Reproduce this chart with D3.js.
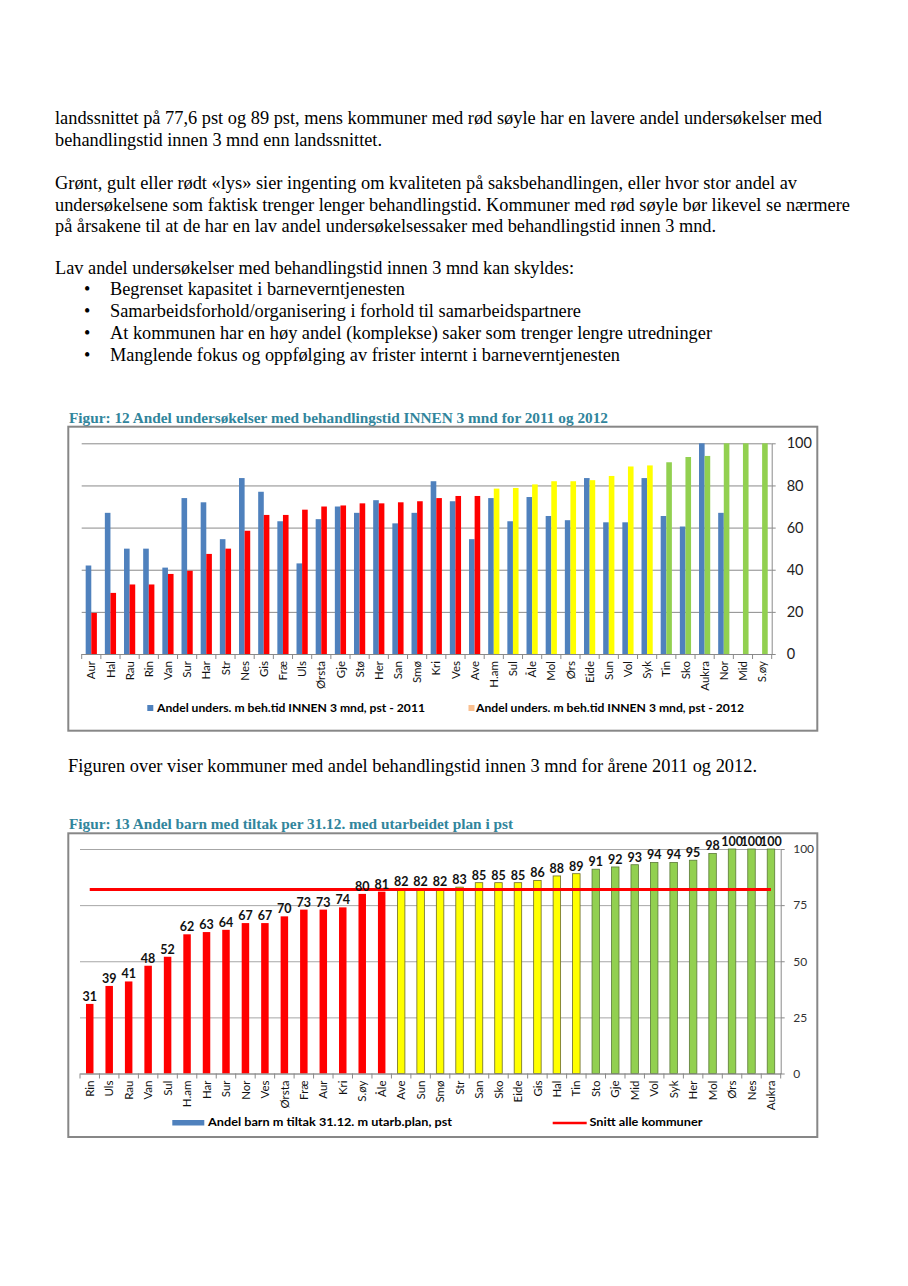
<!DOCTYPE html>
<html><head><meta charset="utf-8">
<script src="https://cdn.jsdelivr.net/npm/d3@7"></script>
<style>body{margin:0;background:#fff;} svg{display:block}</style>
</head><body>
<svg id="page" width="908" height="1286"></svg>
<script>
// ---------- text ----------
const introLines = [
  "landssnittet på 77,6 pst og 89 pst, mens kommuner med rød søyle har en lavere andel undersøkelser med",
  "behandlingstid innen 3 mnd enn landssnittet.",
  "Grønt, gult eller rødt «lys» sier ingenting om kvaliteten på saksbehandlingen, eller hvor stor andel av",
  "undersøkelsene som faktisk trenger lenger behandlingstid. Kommuner med rød søyle bør likevel se nærmere",
  "på årsakene til at de har en lav andel undersøkelsessaker med behandlingstid innen 3 mnd.",
  "Lav andel undersøkelser med behandlingstid innen 3 mnd kan skyldes:"
];
const bulletLines = [
  "Begrenset kapasitet i barneverntjenesten",
  "Samarbeidsforhold/organisering i forhold til samarbeidspartnere",
  "At kommunen har en høy andel (komplekse) saker som trenger lengre utredninger",
  "Manglende fokus og oppfølging av frister internt i barneverntjenesten"
];
const betweenText = "Figuren over viser kommuner med andel behandlingstid innen 3 mnd for årene 2011 og 2012.";

// ---------- chart 1 data ----------
const title1 = "Figur: 12 Andel undersøkelser med behandlingstid INNEN 3 mnd for 2011 og 2012";
const categories1 = ["Aur","Hal","Rau","Rin","Van","Sur","Har","Str","Nes","Gis","Fræ","Uls","Ørsta","Gje","Stø","Her","San","Smø","Kri","Ves","Ave","H.am","Sul","Åle","Mol","Ørs","Eide","Sun","Vol","Syk","Tin","Sko","Aukra","Nor","Mid","S.øy"];
const values2011 = [42,67,50,50,41,74,72,54.5,83.5,77,63,43,64,70,67,73,62,67,82,72.5,54.5,74,63,74.5,65.5,63.5,83.5,62.5,62.5,83.5,65.5,60.5,100,67,null,null];
const values2012 = [19.5,29,33,33,38,39.5,47.5,50,58.5,66,66,68.5,70,70.5,71.5,71.5,72,72.5,74,75,75,78.5,78.8,80.5,82,82,82.5,84.5,89,89.5,91,93.5,94,100,100,100];
const status1 = ["red","red","red","red","red","red","red","red","red","red","red","red","red","red","red","red","red","red","red","red","red",
  "yellow","yellow","yellow","yellow","yellow","yellow","yellow","yellow","yellow",
  "green","green","green","green","green","green"];
const ticks1 = [0,20,40,60,80,100];
const legend1 = ["Andel unders. m beh.tid INNEN 3 mnd, pst - 2011","Andel unders. m beh.tid INNEN 3 mnd, pst - 2012"];

// ---------- chart 2 data ----------
const title2 = "Figur: 13 Andel barn med tiltak per 31.12. med utarbeidet plan i pst";
const categories2 = ["Rin","Uls","Rau","Van","Sul","H.am","Har","Sur","Nor","Ves","Ørsta","Fræ","Aur","Kri","S.øy","Åle","Ave","Sun","Smø","Str","San","Sko","Eide","Gis","Hal","Tin","Sto","Gje","Mid","Vol","Syk","Her","Mol","Ørs","Nes","Aukra"];
const values2 = [31,39,41,48,52,62,63,64,67,67,70,73,73,74,80,81,82,82,82,83,85,85,85,86,88,89,91,92,93,94,94,95,98,100,100,100];
const status2 = ["red","red","red","red","red","red","red","red","red","red","red","red","red","red","red","red",
  "yellow","yellow","yellow","yellow","yellow","yellow","yellow","yellow","yellow","yellow",
  "green","green","green","green","green","green","green","green","green","green"];
const average2 = 82;
const ticks2 = [0,25,50,75,100];
const legend2 = ["Andel barn m tiltak 31.12. m utarb.plan, pst","Snitt alle kommuner"];

// ---------- styles ----------
const fill = {red:"#FF0000", yellow:"#FFFF00", green:"#92D050"};
const stroke2 = {red:"none", yellow:"#6b6b2a", green:"#5b7a36"};
const blue = "#4F81BD", peach = "#FAC090", teal = "#31859C";
const serif = "'Liberation Serif','Times New Roman',serif";
const sans = "Lato,'Liberation Sans',Arial,sans-serif";

const svg = d3.select("#page");

// ---------- paragraphs ----------
const introPos = [[123.5,767],[145.5,327],[188.5,742],[210.5,795],[231.5,661],[273.5,519]];
svg.append("g").selectAll("text").data(introLines).join("text")
  .attr("x",55).attr("y",(d,i)=>introPos[i][0])
  .attr("textLength",(d,i)=>introPos[i][1]).attr("lengthAdjust","spacingAndGlyphs")
  .style("font-family",serif).style("font-size","18px").text(d=>d);
const bulletPos = [[294.5,295],[316.5,471],[338.5,602],[360.5,510]];
const bg = svg.append("g");
bg.selectAll("text.b").data(bulletLines).join("text").attr("class","b")
  .attr("x",84).attr("y",(d,i)=>bulletPos[i][0])
  .style("font-family",serif).style("font-size","18px").text("•");
bg.selectAll("text.t").data(bulletLines).join("text").attr("class","t")
  .attr("x",110).attr("y",(d,i)=>bulletPos[i][0])
  .attr("textLength",(d,i)=>bulletPos[i][1]).attr("lengthAdjust","spacingAndGlyphs")
  .style("font-family",serif).style("font-size","18px").text(d=>d);
svg.append("text").attr("x",68).attr("y",772).attr("textLength",689).attr("lengthAdjust","spacingAndGlyphs")
  .style("font-family",serif).style("font-size","18.5px").text(betweenText);

// ---------- chart 1 ----------
(function(){
  const g = svg.append("g");
  g.append("text").attr("x",69).attr("y",422.5).attr("textLength",539).attr("lengthAdjust","spacingAndGlyphs")
    .style("font-family",serif).style("font-weight","bold").style("font-size","14px").style("fill",teal).text(title1);
  g.append("rect").attr("x",68.3).attr("y",426.7).attr("width",749).attr("height",304)
    .attr("fill","none").attr("stroke","#878787").attr("stroke-width",2);
  const L=81.7, R=771.7, B=654, T=443.3;
  const x0 = d3.scaleBand().domain(categories1).range([L,R]).padding(0);
  const x1 = d3.scaleBand().domain(["2011","2012"]).range([0,x0.bandwidth()]).paddingInner(0).paddingOuter(0.71);
  const y = d3.scaleLinear().domain([0,100]).range([B,T]);
  const grid = g.append("g").attr("transform",`translate(${R},0)`)
    .call(d3.axisRight(y).tickValues(ticks1).tickSize(-(R-L)).tickFormat(""));
  grid.select(".domain").remove();
  grid.selectAll("line").attr("stroke","#8a8a8a");
  const bars = g.append("g");
  bars.selectAll("rect.b11").data(categories1.map((c,i)=>({c,v:values2011[i]})).filter(d=>d.v!=null))
    .join("rect").attr("class","b11")
    .attr("x",d=>x0(d.c)+x1("2011")).attr("width",x1.bandwidth())
    .attr("y",d=>y(d.v)).attr("height",d=>B-y(d.v)).attr("fill",blue);
  bars.selectAll("rect.b12").data(categories1.map((c,i)=>({c,v:values2012[i],s:status1[i]})))
    .join("rect").attr("class","b12")
    .attr("x",d=>x0(d.c)+x1("2012")).attr("width",x1.bandwidth())
    .attr("y",d=>y(d.v)).attr("height",d=>B-y(d.v)).attr("fill",d=>fill[d.s]);
  const ra = g.append("g").attr("transform",`translate(${R},0)`)
    .call(d3.axisRight(y).tickValues(ticks1).tickSize(4).tickSizeOuter(0).tickPadding(11));
  ra.select(".domain").attr("stroke","#8a8a8a");
  ra.selectAll("line").attr("stroke","#8a8a8a");
  ra.selectAll("text").style("font-family",sans).style("font-size","14.5px").style("fill","#222");
  const xa = g.append("g").attr("transform",`translate(0,${B})`)
    .call(d3.axisBottom(x0).tickSize(0).tickSizeOuter(0));
  xa.select(".domain").attr("stroke","#8a8a8a");
  xa.selectAll("text").attr("transform","rotate(-90)").attr("text-anchor","end")
    .attr("x",-7).attr("y",0).attr("dy","0.36em")
    .style("font-family",sans).style("font-size","11.5px").style("fill","#111");
  g.append("g").selectAll("line").data(d3.range(categories1.length+1)).join("line")
    .attr("x1",i=>L+i*x0.step()).attr("x2",i=>L+i*x0.step()).attr("y1",B).attr("y2",B+5).attr("stroke","#8a8a8a");
  const lg = g.append("g");
  lg.append("rect").attr("x",147.3).attr("y",705).attr("width",6).attr("height",6).attr("fill",blue);
  lg.append("text").attr("x",157).attr("y",712).attr("textLength",268).attr("lengthAdjust","spacingAndGlyphs")
    .style("font-family",sans).style("font-weight","bold").style("font-size","12px").text(legend1[0]);
  lg.append("rect").attr("x",468.5).attr("y",705).attr("width",6).attr("height",6).attr("fill",peach);
  lg.append("text").attr("x",476).attr("y",712).attr("textLength",268).attr("lengthAdjust","spacingAndGlyphs")
    .style("font-family",sans).style("font-weight","bold").style("font-size","12px").text(legend1[1]);
})();

// ---------- chart 2 ----------
(function(){
  const g = svg.append("g");
  g.append("text").attr("x",69).attr("y",829).attr("textLength",444).attr("lengthAdjust","spacingAndGlyphs")
    .style("font-family",serif).style("font-weight","bold").style("font-size","14px").style("fill",teal).text(title2);
  g.append("rect").attr("x",68.3).attr("y",833.3).attr("width",749).attr("height",303.7)
    .attr("fill","none").attr("stroke","#878787").attr("stroke-width",2);
  const L=80, R=780.7, B=1073.5, T=849;
  const x = d3.scaleBand().domain(categories2).range([L,R]).paddingInner(0.615).paddingOuter(0.3075);
  const y = d3.scaleLinear().domain([0,100]).range([B,T]);
  const grid = g.append("g").attr("transform",`translate(${R},0)`)
    .call(d3.axisRight(y).tickValues(ticks2).tickSize(-(R-L)).tickFormat(""));
  grid.select(".domain").remove();
  grid.selectAll("line").attr("stroke","#a6a6a6");
  const data = categories2.map((c,i)=>({c,v:values2[i],s:status2[i]}));
  g.append("g").selectAll("rect").data(data).join("rect")
    .attr("x",d=>x(d.c)).attr("width",x.bandwidth())
    .attr("y",d=>y(d.v)).attr("height",d=>B-y(d.v))
    .attr("fill",d=>fill[d.s]).attr("stroke",d=>stroke2[d.s]).attr("stroke-width",0.8);
  g.append("line").attr("x1",x(categories2[0])+x.bandwidth()/2).attr("x2",x(categories2[categories2.length-1])+x.bandwidth()/2)
    .attr("y1",y(average2)).attr("y2",y(average2)).attr("stroke","#FF0000").attr("stroke-width",3);
  g.append("g").selectAll("text").data(data).join("text")
    .attr("x",d=>x(d.c)+x.bandwidth()/2).attr("y",d=>y(d.v)-3).attr("text-anchor","middle")
    .style("font-family",sans).style("font-weight","bold").style("font-size","12.5px").style("fill","#111")
    .text(d=>d.v);
  const ra = g.append("g").attr("transform",`translate(${R},0)`)
    .call(d3.axisRight(y).tickValues(ticks2).tickSize(4).tickSizeOuter(0).tickPadding(8.5));
  ra.select(".domain").attr("stroke","#8a8a8a");
  ra.selectAll("line").attr("stroke","#8a8a8a");
  ra.selectAll("text").style("font-family",sans).style("font-size","12px").style("fill","#333");
  const xa = g.append("g").attr("transform",`translate(0,${B})`)
    .call(d3.axisBottom(x).tickSize(0).tickSizeOuter(0));
  xa.select(".domain").attr("stroke","#8a8a8a");
  xa.selectAll("text").attr("transform","rotate(-90)").attr("text-anchor","end")
    .attr("x",-7).attr("y",0).attr("dy","0.36em")
    .style("font-family",sans).style("font-size","11.5px").style("fill","#111");
  g.append("g").selectAll("line").data(d3.range(categories2.length+1)).join("line")
    .attr("x1",i=>L+i*x.step()).attr("x2",i=>L+i*x.step()).attr("y1",B).attr("y2",B+5).attr("stroke","#8a8a8a");
  const lg = g.append("g");
  lg.append("rect").attr("x",172.3).attr("y",1120).attr("width",32).attr("height",5.5).attr("fill",blue);
  lg.append("text").attr("x",208).attr("y",1126).attr("textLength",244).attr("lengthAdjust","spacingAndGlyphs")
    .style("font-family",sans).style("font-weight","bold").style("font-size","12px").text(legend2[0]);
  lg.append("line").attr("x1",552.7).attr("x2",586.7).attr("y1",1123).attr("y2",1123).attr("stroke","#FF0000").attr("stroke-width",2.5);
  lg.append("text").attr("x",589.5).attr("y",1126).attr("textLength",113).attr("lengthAdjust","spacingAndGlyphs")
    .style("font-family",sans).style("font-weight","bold").style("font-size","12px").text(legend2[1]);
})();
</script>
</body></html>
